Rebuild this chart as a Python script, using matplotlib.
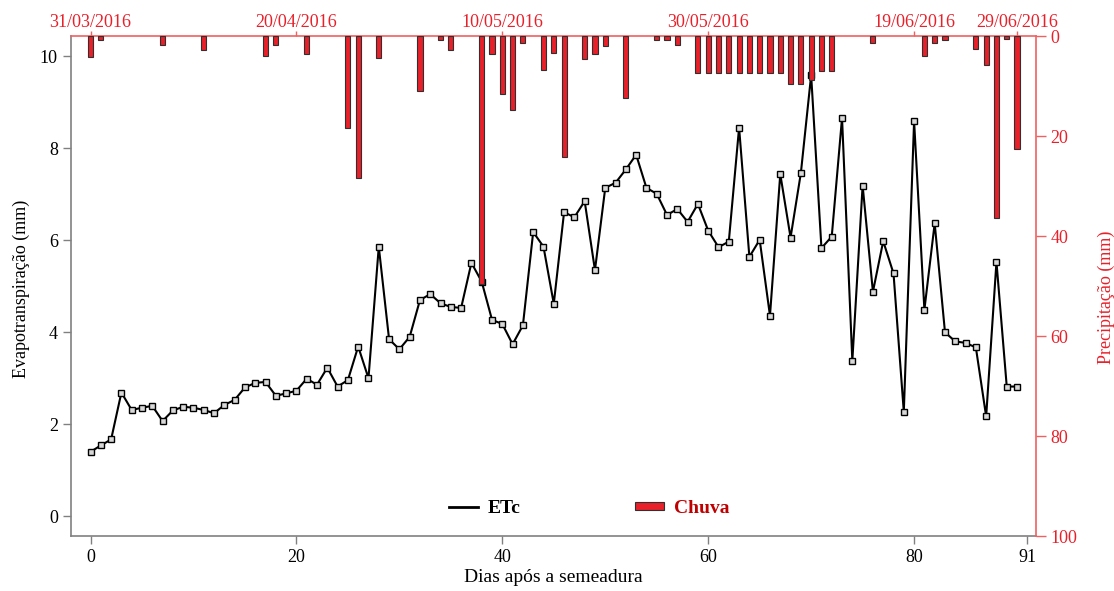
import matplotlib
matplotlib.use("Agg")
import matplotlib.pyplot as plt
from matplotlib.lines import Line2D
from matplotlib.patches import Patch

plt.rcParams['font.family'] = ['Liberation Serif', 'DejaVu Serif']

# ETc (mm) per day after sowing, days 0..90
etc = [1.40, 1.54, 1.67, 2.69, 2.31, 2.36, 2.40, 2.07, 2.30, 2.38,
       2.36, 2.31, 2.24, 2.42, 2.53, 2.80, 2.90, 2.92, 2.62, 2.67,
       2.73, 2.99, 2.86, 3.23, 2.82, 2.96, 3.69, 3.00, 5.86, 3.85,
       3.63, 3.90, 4.70, 4.83, 4.63, 4.55, 4.53, 5.51, 5.10, 4.27,
       4.18, 3.74, 4.15, 6.18, 5.86, 4.62, 6.61, 6.50, 6.85, 5.35,
       7.14, 7.25, 7.54, 7.86, 7.14, 7.01, 6.55, 6.68, 6.40, 6.79,
       6.21, 5.85, 5.97, 8.45, 5.64, 6.01, 4.36, 7.44, 6.06, 7.46,
       9.59, 5.83, 6.08, 8.66, 3.38, 7.19, 4.88, 5.98, 5.28, 2.27,
       8.59, 4.49, 6.37, 4.00, 3.80, 3.77, 3.67, 2.17, 5.53, 2.82,
       2.82]
days = list(range(len(etc)))

# rain (mm) on the days it rained
rain_days = [0, 1, 7, 11, 17, 18, 21, 25, 26, 28, 32, 34, 35, 38, 39, 40, 41, 42,
             44, 45, 46, 48, 49, 50, 52, 55, 56, 57, 59, 60, 61, 62, 63, 64, 65,
             66, 67, 68, 69, 70, 71, 72, 76, 81, 82, 83, 86, 87, 88, 89, 90]
rain_mm = [4.1, 0.8, 1.7, 2.8, 3.9, 1.7, 3.6, 18.4, 28.4, 4.3, 10.9, 0.7, 2.7,
           49.6, 3.5, 11.6, 14.7, 1.3, 6.7, 3.3, 24.2, 4.5, 3.6, 2.0, 12.4, 0.7,
           0.7, 1.7, 7.3, 7.3, 7.3, 7.3, 7.3, 7.3, 7.3, 7.3, 7.3, 9.5, 9.5, 8.7,
           7.0, 7.0, 1.3, 3.9, 1.3, 0.7, 2.6, 5.7, 36.3, 0.5, 22.5]

bottom_ticks = [0, 20, 40, 60, 80, 91]
date_ticks = [0, 20, 40, 60, 80, 90]
date_labels = ['31/03/2016', '20/04/2016', '10/05/2016', '30/05/2016',
               '19/06/2016', '29/06/2016']

red = '#e8202a'
axred = '#f06060'
gray = '#808080'

fig = plt.figure(figsize=(11.14, 5.91), dpi=100)
ax = fig.add_axes([0.0637, 0.093, 0.8659, 0.846])

ax.plot(days, etc, color='black', lw=1.5, marker='s', ms=5,
        mfc='#d8d8d8', mec='black', mew=1.0, zorder=2)
ax.set_xlim(-1.9, 91.8)
ax.set_ylim(-0.43, 10.44)
ax.set_yticks([0, 2, 4, 6, 8, 10])
ax.set_xticks(bottom_ticks)
ax.tick_params(axis='both', labelsize=13, color=gray, length=6, width=1)
ax.set_xlabel('Dias após a semeadura', fontsize=14, labelpad=2)
ax.set_ylabel('Evapotranspiração (mm)', fontsize=13)
ax.yaxis.set_label_coords(-0.0425, 0.495)
for s in ['left', 'bottom']:
    ax.spines[s].set_color(gray)
    ax.spines[s].set_linewidth(1.2)
ax.spines['right'].set_visible(False)
ax.spines['top'].set_visible(False)

ax2 = ax.twinx()
ax2.bar(rain_days, rain_mm, width=0.5, color=red, edgecolor='#303030',
        linewidth=0.8, zorder=3)
ax2.set_ylim(100, 0)
ax2.set_yticks([0, 20, 40, 60, 80, 100])
ax2.tick_params(axis='y', colors=red, labelsize=13, length=7, width=1)
ax2.set_ylabel('Precipitação (mm)', fontsize=13, color=red)
ax2.yaxis.set_label_coords(1.064, 0.478)
ax2.spines['right'].set_color(axred)
ax2.spines['top'].set_color(axred)
ax2.spines['top'].set_linewidth(1.2)
ax2.spines['right'].set_linewidth(1.2)
ax2.spines['left'].set_visible(False)
ax2.spines['bottom'].set_visible(False)
ax2.tick_params(axis='y', color=axred)
for t in ax2.get_yticklabels():
    t.set_color(red)

top = ax.secondary_xaxis('top')
top.set_xticks(date_ticks)
top.set_xticklabels(date_labels)
top.tick_params(axis='x', colors=red, color=axred, labelsize=13, length=3.5,
                width=1, pad=0)
top.spines['top'].set_visible(False)

handles = [Line2D([0], [0], color='black', lw=2),
           Patch(facecolor=red, edgecolor='#303030', linewidth=0.8)]
leg = ax.legend(handles, ['ETc', 'Chuva'], ncol=2, frameon=False,
                loc='center', bbox_to_anchor=(0.537, 0.055),
                prop={'weight': 'bold', 'size': 14},
                columnspacing=5.9, handlelength=1.5, handleheight=0.3,
                handletextpad=0.5)
leg.get_texts()[1].set_color('#c00000')

fig.savefig('out.png', dpi=100)
